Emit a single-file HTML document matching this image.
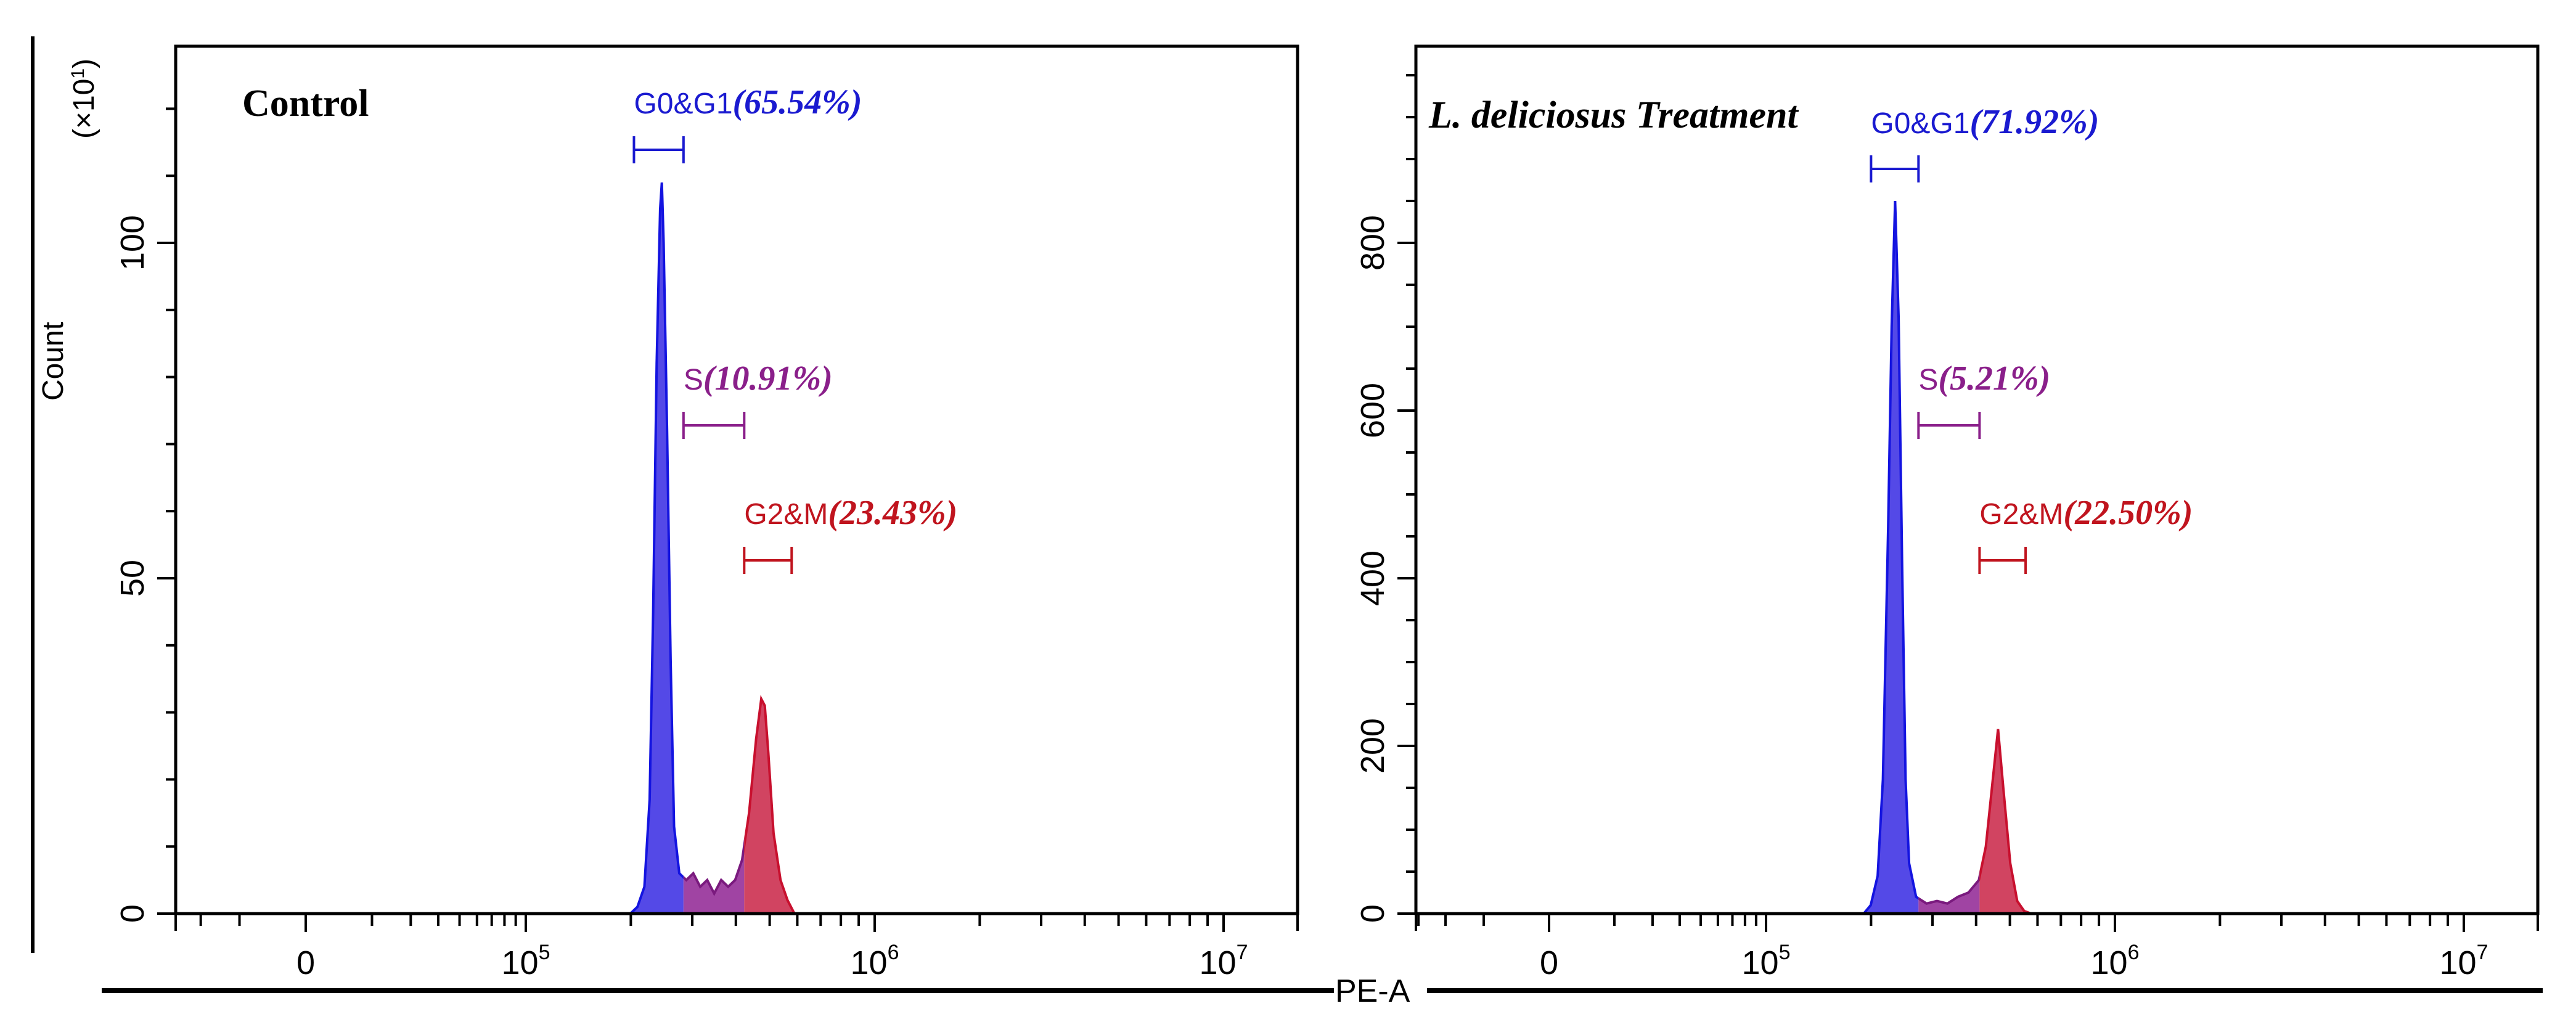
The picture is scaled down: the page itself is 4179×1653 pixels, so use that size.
<!DOCTYPE html>
<html><head><meta charset="utf-8"><style>
html,body{margin:0;padding:0;background:#fff;}
svg{display:block;}
text{font-family:"Liberation Sans",sans-serif;}
.serif{font-family:"Liberation Serif",serif;}
</style></head><body>
<svg id="chart" width="4179" height="1653" viewBox="0 0 4179 1653" xmlns="http://www.w3.org/2000/svg">
<rect width="4179" height="1653" fill="#fff"/>
<line x1="53" y1="59" x2="53" y2="1546" stroke="#000" stroke-width="6"/>
<text transform="translate(102,586) rotate(-90)" font-size="48" text-anchor="middle">Count</text>
<text transform="translate(152,160) rotate(-90)" font-size="48" text-anchor="middle">(×10<tspan font-size="30" dy="-16">1</tspan><tspan dy="16">)</tspan></text>
<line x1="165" y1="1607" x2="2164" y2="1607" stroke="#000" stroke-width="8"/>
<line x1="2315" y1="1607" x2="4125" y2="1607" stroke="#000" stroke-width="8"/>
<text x="2166" y="1625" font-size="52">PE-A</text>
<g id="plots"></g>
</svg>
<script>
// ---- data ----
const leftLogX  = [5.30,5.32,5.34,5.355,5.365,5.375,5.385,5.39,5.395,5.405,5.415,5.425,5.44,5.46,5.48,5.50,5.52,5.54,5.56,5.58,5.60,5.62,5.64,5.66,5.675,5.685,5.695,5.71,5.73,5.75,5.77];
const leftCount = [0,1,4,17,45,82,105,109,100,72,38,13,6,5,6,4,5,3,5,4,5,8,15,26,32,31,24,12,5,2,0];
const rightLogX  = [5.28,5.30,5.32,5.335,5.35,5.36,5.37,5.38,5.39,5.40,5.41,5.43,5.46,5.49,5.52,5.55,5.58,5.61,5.63,5.65,5.665,5.68,5.70,5.72,5.74,5.76];
const rightCount = [0,10,45,160,460,700,850,710,420,160,60,20,12,15,12,20,25,40,80,160,220,150,60,15,3,0];
const leftGates  = [5.31,5.452,5.626,5.762];
const rightGates = [5.301,5.437,5.612,5.744];
const leftYTicks = [0,50,100];
const rightYTicks = [0,200,400,600,800];
const leftPct = ["(65.54%)","(10.91%)","(23.43%)"];
const rightPct = ["(71.92%)","(5.21%)","(22.50%)"];
const phaseNames = ["G0&G1","S","G2&M"];
</script>
<script>
const NS="http://www.w3.org/2000/svg";
const root=document.getElementById('plots');
function mk(tag,attrs,parent,txt){const e=document.createElementNS(NS,tag);for(const k in attrs)e.setAttribute(k,attrs[k]);if(txt!==undefined)e.textContent=txt;(parent||root).appendChild(e);return e;}
function panel(cfg){
  const {fl,fr,top,base,x0,x5,dec,yPer,yMax,yMinor,yMajor,lx,ly,gates,pct,gateY,labY,title,titleX,titleY,titleItalic,id}=cfg;
  const X=l=>x5+(l-5)*dec;
  const Y=c=>base-c*yPer;
  const g=mk('g',{});
  
  
  const defs=mk('defs',{},g);
  const cols=[["#4b3fe6","#1414e0"],["#9b3a9e","#7a1a7e"],["#cf3a58","#c8102e"]];
  const bounds=[[fl,X(gates[1])],[X(gates[1]),X(gates[2])],[X(gates[2]),fr]];
  let d='M'+X(lx[0])+','+base;
  lx.forEach((l,i)=>{d+=' L'+X(l).toFixed(1)+','+Y(ly[i]).toFixed(1);});
  d+=' L'+X(lx[lx.length-1])+','+base+' Z';
  bounds.forEach((b,i)=>{
    const cp=mk('clipPath',{id:id+'clip'+i},defs);
    mk('rect',{x:b[0],y:0,width:b[1]-b[0],height:base+1},cp);
    const p=mk('path',{d:d,fill:cols[i][0],'fill-opacity':0.95,stroke:cols[i][1],'stroke-width':4,'clip-path':'url(#'+id+'clip'+i+')'},g);
    
    
  });
  const fr_=mk('rect',{x:fl,y:top,width:fr-fl,height:base-top,fill:'none',stroke:'#000','stroke-width':5},g);
  
  
  for(let v=0;v<=yMax;v+=yMinor){
    const maj=yMajor.includes(v);
    mk('line',{x1:fl-(maj?30:16),x2:fl,y1:Y(v),y2:Y(v),stroke:'#000','stroke-width':4},g);
  }
  yMajor.forEach(v=>{
    const t=mk('text',{transform:'translate('+(fl-52)+','+Y(v)+') rotate(-90)','font-size':54,'text-anchor':'middle'},g,String(v));
    
    
  });
  const tick=(x,len)=>{if(x>=fl-1&&x<=fr+1)mk('line',{x1:x,x2:x,y1:base,y2:base+len,stroke:'#000','stroke-width':4},g);};
  tick(fl,28);tick(fr,28);
  tick(x0,30);
  for(let k=1;k<=9;k++){const f=Math.log10(1+k);tick(x0+(x5-x0)*f,k==9?30:20);tick(x0-(x5-x0)*f,20);}
  for(let e=5;e<=7;e++)for(let m=1;m<=9;m++){tick(X(e+Math.log10(m)),m==1?30:20);}
  const xl=[[x0,'0',null],[X(5),'10','5'],[X(6),'10','6'],[X(7),'10','7']];
  xl.forEach(a=>{
    const t=mk('text',{x:a[0],y:base+98,'font-size':54,'text-anchor':'middle'},g);
    
    
    t.appendChild(document.createTextNode(a[1]));
    if(a[2]){mk('tspan',{'font-size':34,dy:-24},t,a[2]);}
  });
  const tt=mk('text',{x:titleX,y:titleY,'font-size':62,'font-weight':'bold','font-style':titleItalic?'italic':'normal','class':'serif'},g,title);
  
  
  const gc=["#1a1ad0","#8a1f8a","#c0141e"];
  for(let i=0;i<3;i++){
    const a=X(gates[i]),b=X(gates[i+1]),y=gateY[i];
    const gg=mk('g',{stroke:gc[i],'stroke-width':4},g);
    
    
    mk('line',{x1:a,x2:b,y1:y,y2:y},gg);mk('line',{x1:a,x2:a,y1:y-22,y2:y+22},gg);mk('line',{x1:b,x2:b,y1:y-22,y2:y+22},gg);
    const t=mk('text',{x:a,y:labY[i],'font-size':48,fill:gc[i]},g);
    
    
    mk('tspan',{},t,phaseNames[i]);
    mk('tspan',{'font-family':'Liberation Serif, serif','font-style':'italic','font-weight':'bold','font-size':56},t,pct[i]);
  }
  root.appendChild(g);
}
panel({id:'control',fl:285,fr:2105,top:75,base:1482,x0:496,x5:853,dec:566,yPer:10.88,yMax:120,yMinor:10,yMajor:leftYTicks,
  lx:leftLogX,ly:leftCount,gates:leftGates,pct:leftPct,gateY:[243,690,909],labY:[184,632,850],
  title:'Control',titleX:393,titleY:188,titleItalic:false});
panel({id:'treatment',fl:2297,fr:4117,top:75,base:1482,x0:2513,x5:2865,dec:566,yPer:1.36,yMax:1000,yMinor:50,yMajor:rightYTicks,
  lx:rightLogX,ly:rightCount,gates:rightGates,pct:rightPct,gateY:[274,690,909],labY:[216,632,850],
  title:'L. deliciosus Treatment',titleX:2318,titleY:207,titleItalic:true});
</script>
</body></html>
